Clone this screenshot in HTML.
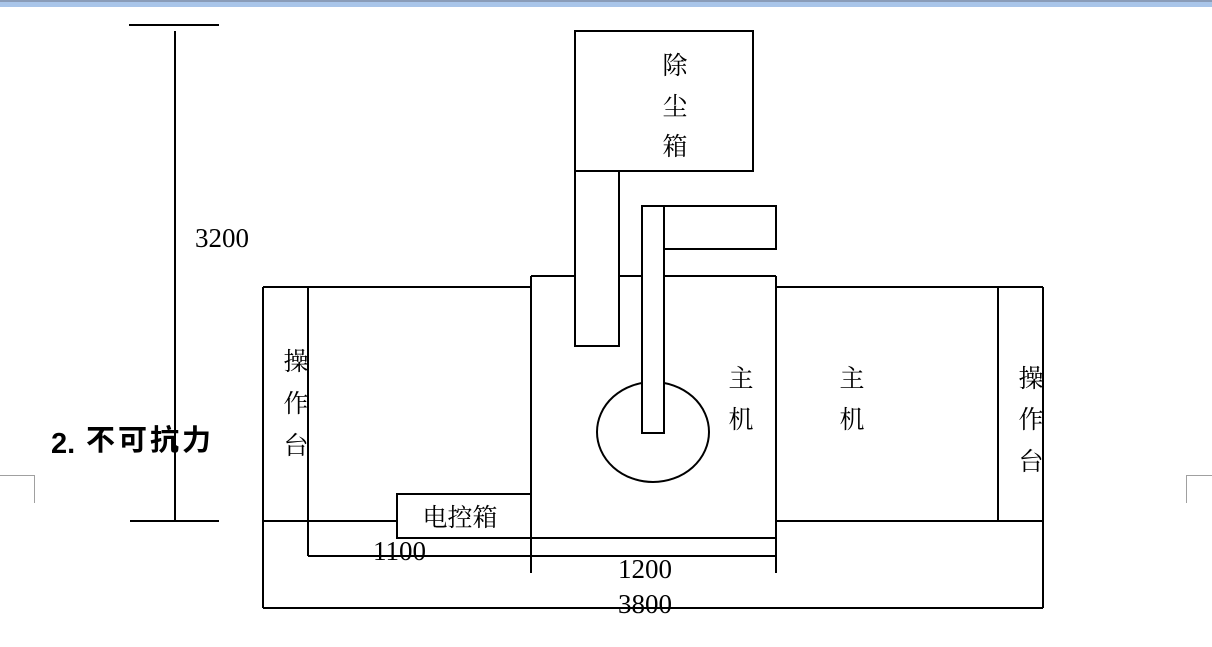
<!DOCTYPE html>
<html>
<head>
<meta charset="utf-8">
<style>
  html,body{margin:0;padding:0;background:#fff;}
  body{width:1212px;height:647px;overflow:hidden;position:relative;}
  .bar{position:absolute;left:0;top:0;width:1212px;height:7px;background:linear-gradient(#8a9cb8 0,#8a9cb8 2px,#a9c5e9 2px,#a9c5e9 7px);}
  svg{position:absolute;left:0;top:0;}
</style>
</head>
<body>
<div class="bar"></div>
<svg width="1212" height="647" viewBox="0 0 1212 647" xmlns="http://www.w3.org/2000/svg">
  <defs>
    <clipPath id="cl"><rect x="270" y="300" width="37" height="200"/></clipPath>
    <clipPath id="cr"><rect x="1005" y="300" width="37" height="200"/></clipPath>
  </defs>
  <g stroke="#000" stroke-width="2" fill="none">
    <!-- 3200 dimension -->
    <line x1="129" y1="25" x2="219" y2="25"/>
    <line x1="175" y1="31" x2="175" y2="521"/>
    <line x1="130" y1="521" x2="219" y2="521"/>

    <!-- outer rect (3800) -->
    <line x1="263" y1="287" x2="531" y2="287"/>
    <line x1="776" y1="287" x2="1043" y2="287"/>
    <line x1="263" y1="287" x2="263" y2="608"/>
    <line x1="1043" y1="287" x2="1043" y2="608"/>
    <line x1="263" y1="608" x2="1043" y2="608"/>

    <!-- left inner / 1100 -->
    <line x1="308" y1="287" x2="308" y2="556"/>
    <line x1="308" y1="556" x2="776" y2="556"/>

    <!-- y=521 lines -->
    <line x1="263" y1="521" x2="397" y2="521"/>
    <line x1="776" y1="521" x2="1043" y2="521"/>

    <!-- electric box -->
    <rect x="397" y="494" width="134" height="44"/>
    <line x1="531" y1="538" x2="776" y2="538"/>

    <!-- center box -->
    <line x1="531" y1="276" x2="776" y2="276"/>
    <line x1="531" y1="276" x2="531" y2="573"/>
    <line x1="776" y1="276" x2="776" y2="573"/>

    <!-- right inner -->
    <line x1="998" y1="287" x2="998" y2="521"/>

    <!-- dust box -->
    <rect x="575" y="31" width="178" height="140"/>
    <!-- duct -->
    <rect x="575" y="171" width="44" height="175" fill="#fff"/>
    <!-- ellipse -->
    <ellipse cx="653" cy="432" rx="56" ry="50" fill="#fff"/>
    <!-- pipe -->
    <rect x="642" y="206" width="22" height="227" fill="#fff"/>
    <!-- arm -->
    <rect x="664" y="206" width="112" height="43" fill="#fff"/>
  </g>

  <!-- corner marks -->
  <g stroke="#a0a0a0" stroke-width="1" fill="none">
    <line x1="0" y1="475.5" x2="34.5" y2="475.5"/>
    <line x1="34.5" y1="475" x2="34.5" y2="503"/>
    <line x1="1186.5" y1="475" x2="1186.5" y2="503"/>
    <line x1="1186" y1="475.5" x2="1212" y2="475.5"/>
  </g>

  <!-- CJK labels -->
  <g font-family="'Noto Serif CJK SC','Noto Sans CJK SC',serif" font-size="25" fill="#000" text-anchor="middle" dominant-baseline="central">
    <text x="675" y="64">除</text>
    <text x="675" y="105">尘</text>
    <text x="675" y="145">箱</text>

    <text x="741" y="377">主</text>
    <text x="741" y="418">机</text>

    <text x="852" y="377">主</text>
    <text x="852" y="418">机</text>

    <g clip-path="url(#cl)">
      <text x="296" y="360">操</text>
      <text x="296" y="402">作</text>
      <text x="296" y="444">台</text>
    </g>
    <g clip-path="url(#cr)">
      <text x="1031" y="377">操</text>
      <text x="1031" y="418">作</text>
      <text x="1031" y="460">台</text>
    </g>

    <text x="460" y="516">电控箱</text>
  </g>

  <!-- digits -->
  <g font-family="'Liberation Serif',serif" font-size="27" fill="#000">
    <text x="195" y="247">3200</text>
    <text x="373" y="560">1100</text>
    <text x="618" y="578">1200</text>
    <text x="618" y="613">3800</text>
  </g>

  <!-- heading -->
  <text x="51" y="453" font-family="'Liberation Sans',sans-serif" font-size="29" font-weight="bold" fill="#000">2.</text>
  <text x="86" y="441" font-family="'Liberation Sans','Noto Sans CJK SC',sans-serif" font-size="29" font-weight="bold" letter-spacing="3" dominant-baseline="central" fill="#000">不可抗力</text>
</svg>
</body>
</html>
